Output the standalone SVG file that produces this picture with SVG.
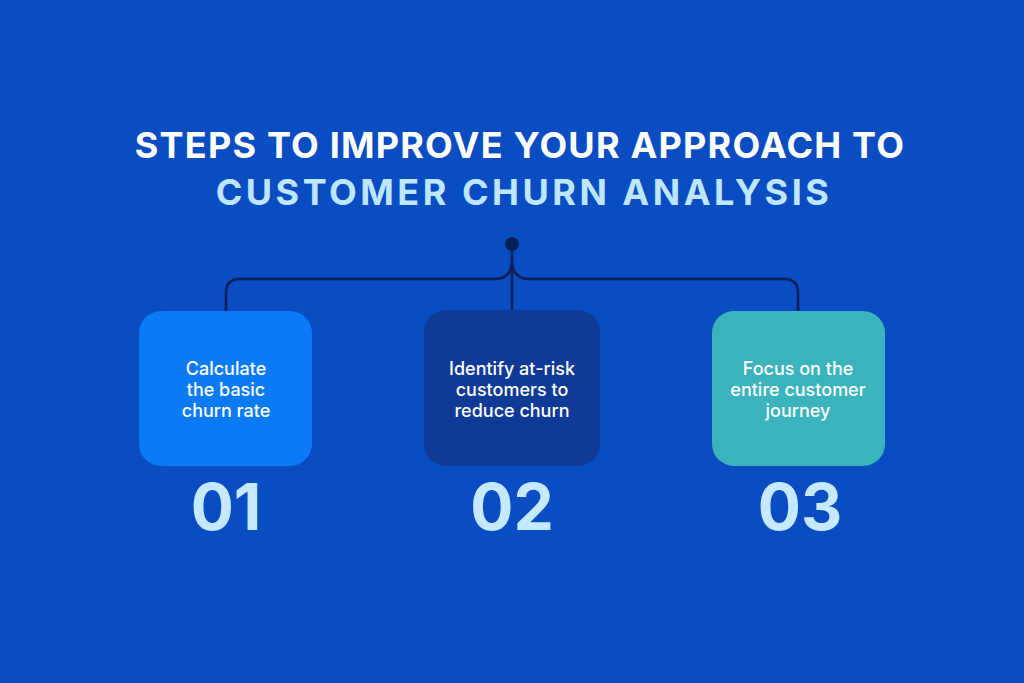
<svg xmlns="http://www.w3.org/2000/svg" width="1024" height="683" viewBox="0 0 1024 683">
<style>
.t{font-family:"Inter","Liberation Sans",sans-serif;font-weight:700;font-size:36px;text-anchor:middle;letter-spacing:1.2px}
.b{font-family:"Inter","Liberation Sans",sans-serif;font-weight:500;font-size:18px;fill:#fff;text-anchor:middle}
.n{font-family:"Inter","Liberation Sans",sans-serif;font-weight:700;font-size:64px;fill:#c5eaff;text-anchor:middle}
.c{fill:none;stroke:#0a1f55;stroke-width:2.5}
</style>
<rect width="1024" height="683" fill="#0a4cc2"/>
<text class="t" x="520" y="158" fill="#fff">STEPS TO IMPROVE YOUR APPROACH TO</text>
<text class="t" x="524" y="205" fill="#bfe6ff" style="letter-spacing:3.5px">CUSTOMER CHURN ANALYSIS</text>
<g id="connectors">
<circle cx="512" cy="244" r="7" fill="#0a1f55"/>
<path class="c" d="M512 244V310M512 260Q512 279 494 279H240Q226 279 226 293V311M512 260Q512 279 530 279H784Q798 279 798 293V311"/>
</g>
<g id="step1">
<rect x="139" y="311" width="173" height="155" rx="22" fill="#0a7bf5"/>
<text class="b" x="226" y="375">Calculate</text>
<text class="b" x="226" y="396">the basic</text>
<text class="b" x="226" y="417">churn rate</text>
<text class="n" x="226" y="530">01</text>
</g>
<g id="step2">
<rect x="424" y="310" width="176" height="156" rx="22" fill="#0f3a95"/>
<text class="b" x="512" y="375">Identify at-risk</text>
<text class="b" x="512" y="396">customers to</text>
<text class="b" x="512" y="417">reduce churn</text>
<text class="n" x="512" y="530">02</text>
</g>
<g id="step3">
<rect x="712" y="311" width="173" height="155" rx="22" fill="#3bb3bd"/>
<text class="b" x="798" y="375">Focus on the</text>
<text class="b" x="798" y="396">entire customer</text>
<text class="b" x="798" y="417">journey</text>
<text class="n" x="800" y="530">03</text>
</g>
</svg>
